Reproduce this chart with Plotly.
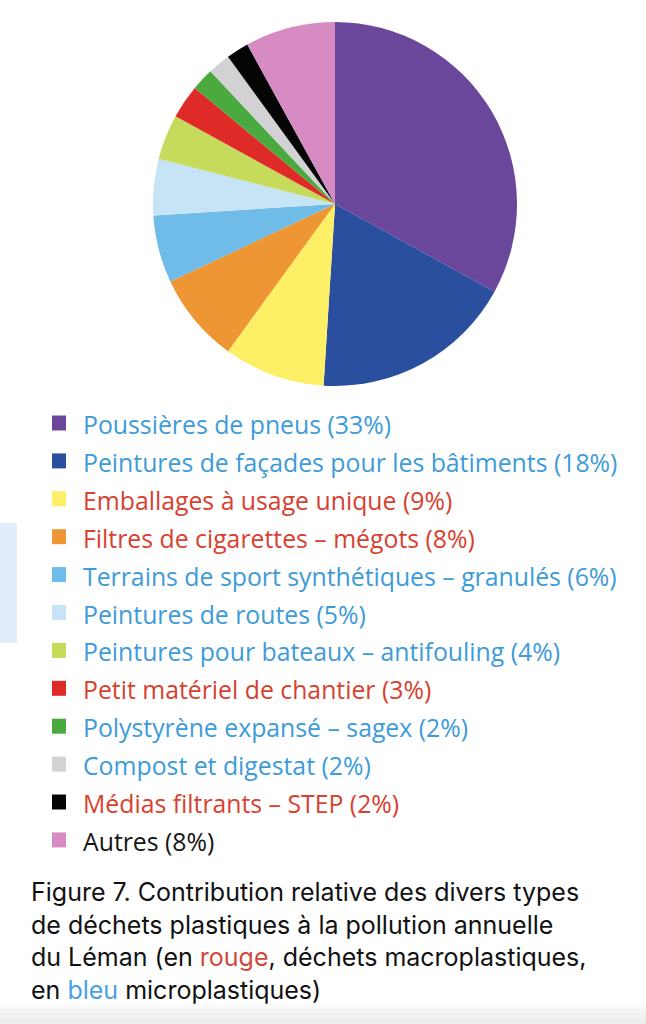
import plotly.graph_objects as go

W, H = 646, 1024

categories = [
    "Poussières de pneus",
    "Peintures de façades pour les bâtiments",
    "Emballages à usage unique",
    "Filtres de cigarettes – mégots",
    "Terrains de sport synthétiques – granulés",
    "Peintures de routes",
    "Peintures pour bateaux – antifouling",
    "Petit matériel de chantier",
    "Polystyrène expansé – sagex",
    "Compost et digestat",
    "Médias filtrants – STEP",
    "Autres",
]
values = [33, 18, 9, 8, 6, 5, 4, 3, 2, 2, 2, 8]
kinds = ["micro", "micro", "macro", "macro", "micro", "micro", "micro",
         "macro", "micro", "micro", "macro", "other"]
slice_colors = ["#6a479b", "#2a4f9f", "#fdf067", "#ee9633", "#6fbce8", "#c7e3f6",
                "#c6da5c", "#df2b27", "#4aa93f", "#d2d2d4", "#050505", "#d68bc3"]
text_colors = {"micro": "#3d9bd9", "macro": "#d8412f", "other": "#151515"}

caption_lines = [
    "Figure 7. Contribution relative des divers types",
    "de déchets plastiques à la pollution annuelle",
    "du Léman (en <span style='color:#d0493a'>rouge</span>, déchets macroplastiques,",
    "en <span style='color:#4a9fe0'>bleu</span> microplastiques)",
]


def px(x):
    return x / W


def py(y):
    return 1 - y / H


cx, cy, r = 335, 204, 182

fig = go.Figure(go.Pie(
    labels=categories,
    values=values,
    sort=False,
    direction="clockwise",
    rotation=0,
    marker=dict(colors=slice_colors, line=dict(width=0)),
    textinfo="none",
    hoverinfo="label+percent",
    showlegend=False,
    domain=dict(x=[px(cx - r), px(cx + r)], y=[py(cy + r), py(cy - r)]),
))

shapes = []
annotations = []

# light-blue side tab
shapes.append(dict(type="rect", xref="paper", yref="paper", x0=0, x1=px(17),
                   y0=py(643), y1=py(523), fillcolor="#e3edf9", line=dict(width=0), layer="below"))

# bottom shading
for i, c in enumerate(["#fafafa", "#f5f5f5", "#f0f0f0", "#ececec"]):
    shapes.append(dict(type="rect", xref="paper", yref="paper", x0=0, x1=1,
                       y0=0, y1=py(1004 + i * 5), fillcolor=c, line=dict(width=0), layer="below"))

row0, step = 423, 37.9
for i, (cat, v, k, col) in enumerate(zip(categories, values, kinds, slice_colors)):
    yc = row0 + i * step
    shapes.append(dict(type="rect", xref="paper", yref="paper",
                       x0=px(52), x1=px(66), y0=py(yc + 7.5), y1=py(yc - 7.5),
                       fillcolor=col, line=dict(width=0)))
    annotations.append(dict(xref="paper", yref="paper", x=px(81), y=py(yc + 1),
                            xanchor="left", yanchor="middle", showarrow=False,
                            text=f"{cat} ({v}%)",
                            font=dict(family="Open Sans", size=24.8, color=text_colors[k])))

cap0, cstep = 892, 32.5
for i, line in enumerate(caption_lines):
    annotations.append(dict(xref="paper", yref="paper", x=px(29), y=py(cap0 + i * cstep),
                            xanchor="left", yanchor="middle", showarrow=False,
                            text=line,
                            font=dict(family="Inter", size=25, color="#111111")))

fig.update_layout(
    width=W, height=H,
    margin=dict(l=0, r=0, t=0, b=0),
    paper_bgcolor="white", plot_bgcolor="white",
    shapes=shapes, annotations=annotations,
)

fig.write_html("out.html", config={"displayModeBar": False},
               post_script="document.body.style.margin='0';")
